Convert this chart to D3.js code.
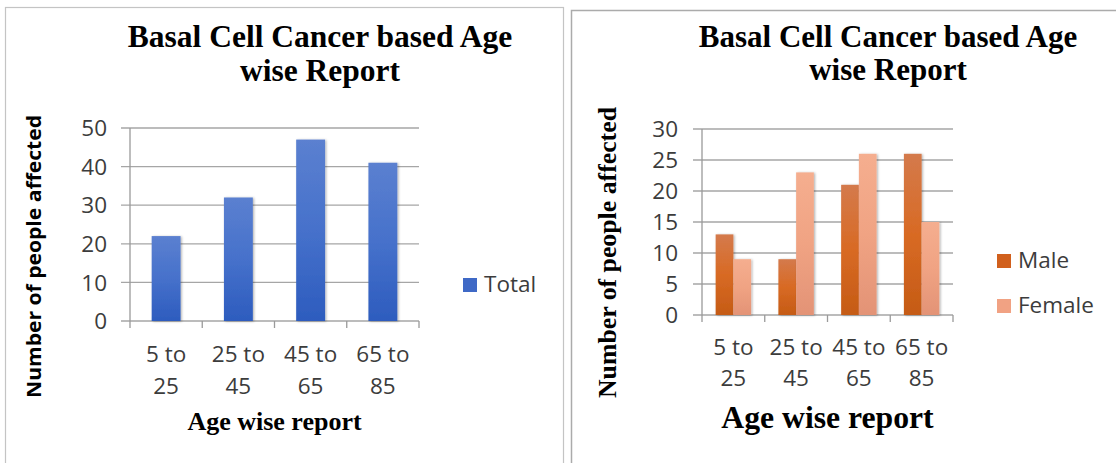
<!DOCTYPE html>
<html>
<head>
<meta charset="utf-8">
<script src="https://cdn.jsdelivr.net/npm/d3@7"></script>
<style>
  html, body { margin: 0; padding: 0; background: #ffffff; }
  svg { display: block; }
  .title, .axis-title { font-family: "Liberation Serif", "Times New Roman", serif; font-weight: bold; fill: #000; }
  .tick-label, .cat-label, .legend-label { font-family: "Open Sans", "Liberation Sans", sans-serif; fill: #3c3c3c; }
</style>
</head>
<body>
<svg id="chart" width="1116" height="463"></svg>
<script>
// Age groups and counts of basal cell cancer cases
const ageGroups = ["5 to 25", "25 to 45", "45 to 65", "65 to 85"];
const totalCases = [22, 32, 47, 41];
const maleCases = [13, 9, 21, 26];
const femaleCases = [9, 23, 26, 15];
const totalTicks = [0, 10, 20, 30, 40, 50];
const genderTicks = [0, 5, 10, 15, 20, 25, 30];
const chartTitle = ["Basal Cell Cancer based Age", "wise Report"];
const yTitle = "Number of people affected";
const xTitle = "Age wise report";

const svg = d3.select("#chart");
const defs = svg.append("defs");

function gradient(id, stops) {
  const g = defs.append("linearGradient").attr("id", id)
    .attr("x1", 0).attr("y1", 0).attr("x2", 0).attr("y2", 1);
  stops.forEach(([o, c]) => g.append("stop").attr("offset", o).attr("stop-color", c));
}
gradient("gBlue", [[0, "#5b80d0"], [0.5, "#4671cb"], [1, "#2d5cbe"]]);
gradient("gMale", [[0, "#d47a4c"], [0.5, "#d86a24"], [1, "#c55b15"]]);
gradient("gFemale", [[0, "#f5ae8f"], [0.5, "#f0a383"], [1, "#e39376"]]);

const shadow = defs.append("filter").attr("id", "barShadow")
  .attr("x", "-30%").attr("y", "-10%").attr("width", "160%").attr("height", "120%");
shadow.append("feDropShadow").attr("dx", 1.2).attr("dy", 0.5)
  .attr("stdDeviation", 1.3).attr("flood-color", "#000").attr("flood-opacity", 0.3);

// Panel frames
svg.append("rect").attr("x", 5.5).attr("y", 7.5).attr("width", 558).attr("height", 470)
  .attr("fill", "none").attr("stroke", "#c4c4c4").attr("stroke-width", 1.2);
svg.append("rect").attr("x", 571.5).attr("y", 10.5).attr("width", 560).attr("height", 470)
  .attr("fill", "none").attr("stroke", "#ababab").attr("stroke-width", 1.5);

function drawChart(cfg) {
  const { left, right, top, bottom, max, ticks, series, innerPad } = cfg;
  const g = svg.append("g");

  const x0 = d3.scaleBand().domain(ageGroups).range([left, right]).padding(0);
  const x1 = d3.scaleBand().domain(series.map(s => s.name))
    .range([0, x0.bandwidth()]).paddingInner(0).paddingOuter(innerPad);
  const y = d3.scaleLinear().domain([0, max]).range([bottom, top]);

  // gridlines with outward tick marks
  g.selectAll("line.grid").data(ticks).join("line")
    .attr("x1", left - 9).attr("x2", right)
    .attr("y1", d => y(d)).attr("y2", d => y(d))
    .attr("stroke", "#a6a6a6").attr("stroke-width", 1.3);
  // value axis line
  g.append("line").attr("x1", left).attr("x2", left)
    .attr("y1", y(max)).attr("y2", bottom)
    .attr("stroke", "#9a9a9a").attr("stroke-width", 1.3);
  // category tick marks at band edges
  const edges = ageGroups.map(c => x0(c)).concat([right]);
  g.selectAll("line.xt").data(edges).join("line")
    .attr("x1", d => d).attr("x2", d => d)
    .attr("y1", bottom).attr("y2", bottom + 7)
    .attr("stroke", "#9a9a9a").attr("stroke-width", 1.3);

  // tick labels
  g.selectAll("text.tick-label").data(ticks).join("text")
    .attr("class", "tick-label")
    .attr("x", left - cfg.tickGap).attr("y", d => y(d)).attr("dy", "0.36em")
    .attr("text-anchor", "end").attr("font-size", cfg.tickSize)
    .text(d => d);

  // bars
  series.forEach(s => {
    g.selectAll(null).data(ageGroups).join("rect")
      .attr("x", c => x0(c) + x1(s.name))
      .attr("width", x1.bandwidth())
      .attr("y", (c, i) => y(s.values[i]))
      .attr("height", (c, i) => bottom - y(s.values[i]))
      .attr("fill", `url(#${s.grad})`)
      .attr("filter", "url(#barShadow)");
  });

  // category labels on two lines
  ageGroups.forEach(c => {
    const parts = c.split(" to ");
    const cx = x0(c) + x0.bandwidth() / 2;
    g.append("text").attr("class", "cat-label").attr("font-size", cfg.tickSize)
      .attr("text-anchor", "middle").attr("x", cx).attr("y", bottom + cfg.catLine1)
      .text(parts[0] + " to");
    g.append("text").attr("class", "cat-label").attr("font-size", cfg.tickSize)
      .attr("text-anchor", "middle").attr("x", cx).attr("y", bottom + cfg.catLine2)
      .text(parts[1]);
  });

  // chart title
  chartTitle.forEach((t, i) => {
    g.append("text").attr("class", "title")
      .attr("x", cfg.titleX).attr("y", cfg.titleY[i])
      .attr("text-anchor", "middle").attr("font-size", cfg.titleSize)
      .text(t);
  });

  // axis titles
  g.append("text").attr("class", "axis-title")
    .attr("x", (left + right) / 2).attr("y", cfg.xTitleY)
    .attr("text-anchor", "middle").attr("font-size", cfg.xTitleSize)
    .text(xTitle);

  const yt = g.append("text")
    .attr("transform", `translate(${cfg.yTitleX},${cfg.yTitleY}) rotate(-90)`)
    .attr("text-anchor", "middle").attr("font-size", cfg.yTitleSize)
    .attr("textLength", cfg.yTitleLen).attr("lengthAdjust", "spacingAndGlyphs")
    .style("font-family", cfg.yTitleFont).style("font-weight", "bold").style("fill", "#000")
    .text(yTitle);

  // legend
  series.forEach((s, i) => {
    const ly = cfg.legendY + i * 45;
    g.append("rect").attr("x", cfg.legendX).attr("y", ly - 14)
      .attr("width", 14).attr("height", 14).attr("fill", s.swatch);
    g.append("text").attr("class", "legend-label").attr("font-size", cfg.tickSize)
      .attr("x", cfg.legendX + 21).attr("y", ly).text(s.name);
  });
}

drawChart({
  left: 130, right: 419, top: 128, bottom: 321, max: 50, ticks: totalTicks,
  series: [{ name: "Total", values: totalCases, grad: "gBlue", swatch: "#3f69c6" }],
  innerPad: 0.75,
  tickGap: 23, tickSize: 22.5, catLine1: 41, catLine2: 73,
  titleX: 320, titleY: [47, 81], titleSize: 31.5,
  xTitleY: 430, xTitleSize: 26,
  yTitleX: 41, yTitleY: 256.5, yTitleSize: 19.5, yTitleLen: 283,
  yTitleFont: "'Open Sans', 'Liberation Sans', sans-serif",
  legendX: 463, legendY: 292
});

drawChart({
  left: 702, right: 953, top: 129, bottom: 315, max: 30, ticks: genderTicks,
  series: [
    { name: "Male", values: maleCases, grad: "gMale", swatch: "#d1601d" },
    { name: "Female", values: femaleCases, grad: "gFemale", swatch: "#f1a283" }
  ],
  innerPad: 0.77,
  tickGap: 24, tickSize: 22.5, catLine1: 40, catLine2: 71,
  titleX: 888, titleY: [47, 80], titleSize: 31,
  xTitleY: 428, xTitleSize: 31.7,
  yTitleX: 616, yTitleY: 252.5, yTitleSize: 26, yTitleLen: 291,
  yTitleFont: "'Liberation Serif', 'Times New Roman', serif",
  legendX: 997, legendY: 268
});
</script>
</body>
</html>
